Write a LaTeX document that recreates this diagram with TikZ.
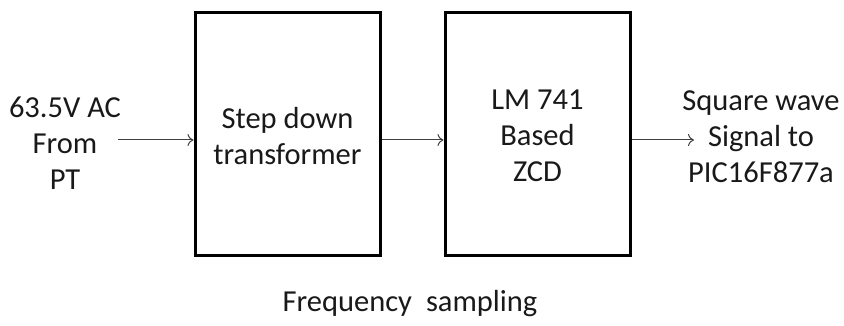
\documentclass[tikz,border=0pt]{standalone}
\usepackage{fontspec}
\setmainfont{Carlito}
\usetikzlibrary{arrows.meta}
\begin{document}
\begin{tikzpicture}[x=1pt,y=-1pt,
  blockbox/.style={draw=black,line width=3pt,minimum width=185pt,minimum height=242pt,inner sep=0pt},
  lbl/.style={align=center,font=\fontsize{30.5}{36}\selectfont,text=black!90,inner sep=0pt},
  conn/.style={draw=black!75,line width=1pt,-{To[length=6pt,width=12pt]}}]
\useasboundingbox (0,0) rectangle (844,326);
\node[blockbox] (b1) at (287.5,134) {};
\node[blockbox] (b2) at (537.5,134) {};
\node[lbl] (t1) at (287.5,136) {Step down\\transformer};
\node[lbl] (t2) at (537.5,136) {LM 741\\Based\\ZCD};
\node[lbl] (in) at (65,143) {63.5V AC\\From\\PT};
\node[lbl] (out) at (761,137) {Square wave\\Signal to\\PIC16F877a};
\coordinate (s) at (118,140);
\coordinate (e) at (694,140);
\node[lbl] (cap) at (410,304) {Frequency\hspace{14pt}sampling};
\draw[conn] (s) -- (b1.west |- s);
\draw[conn] (b1.east |- s) -- (b2.west |- s);
\draw[conn] (b2.east |- s) -- (e);
\end{tikzpicture}
\end{document}
